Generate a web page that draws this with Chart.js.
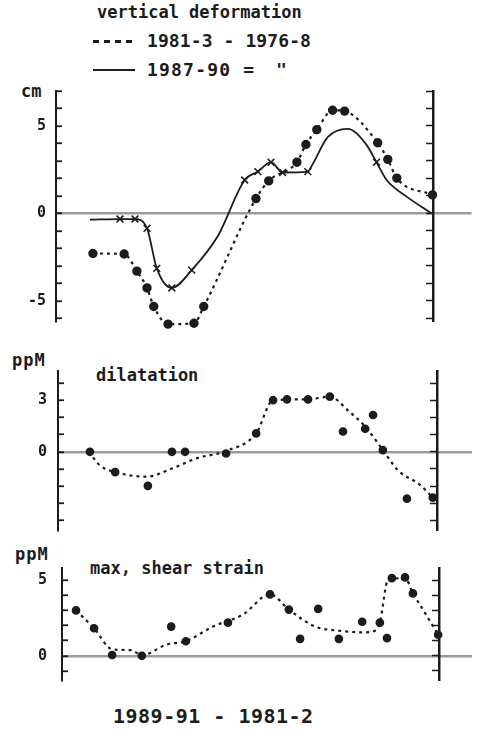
<!DOCTYPE html>
<html>
<head>
<meta charset="utf-8">
<script src="https://cdn.jsdelivr.net/npm/chart.js@4.4.1/dist/chart.umd.min.js"></script>
<style>
  body { margin: 0; background: #fff; }
  #page { position: relative; width: 478px; height: 731px; overflow: hidden;
          font-family: "DejaVu Sans Mono", monospace; font-weight: bold; color: #1c1c1c; }
  .t { position: absolute; white-space: pre; line-height: 1; }
  canvas { position: absolute; left: 0; }
  .dash { position: absolute; height: 3px;
          background: repeating-linear-gradient(90deg, #1c1c1c 0 6px, transparent 6px 11px); }
  .solid { position: absolute; height: 2px; background: #1c1c1c; }
</style>
</head>
<body>
<div id="page">
  <div class="t" style="left:97px; top:4px; font-size:17px;">vertical deformation</div>
  <div class="dash" style="left:93px; top:40px; width:42px;"></div>
  <div class="t" style="left:147px; top:32px; font-size:18px; letter-spacing:0.1px;">1981-3 - 1976-8</div>
  <div class="solid" style="left:93px; top:69px; width:42px;"></div>
  <div class="t" style="left:147px; top:61px; font-size:18px; letter-spacing:1.2px;">1987-90 =</div>
  <div class="t" style="left:276px; top:61px; font-size:18px;">"</div>

  <div class="t" style="left:21px; top:83px; font-size:17px;">cm</div>
  <div class="t" style="left:12px; top:352px; font-size:17px; letter-spacing:1px;">ppM</div>
  <div class="t" style="left:96px; top:367px; font-size:17px;">dilatation</div>
  <div class="t" style="left:15px; top:546px; font-size:17px; letter-spacing:1px;">ppM</div>
  <div class="t" style="left:90px; top:560px; font-size:17px;">max, shear strain</div>
  <div class="t" style="left:113px; top:706px; font-size:20px; letter-spacing:0.5px;">1989-91 - 1981-2</div>

  <canvas id="defChart" width="478" height="280" style="top:66px"></canvas>
  <canvas id="dilChart" width="478" height="211" style="top:345px"></canvas>
  <canvas id="shearChart" width="478" height="172" style="top:538px"></canvas>
</div>

<script>
// x = position along the profile: 0 at the left axis, 100 at the right axis

// vertical deformation (cm), 1981-3 minus 1976-8
const def8176X = [8.5, 16.8, 20.2, 22.9, 24.7, 28.5, 35.4, 38.0, 51.9, 55.3, 62.8, 65.2, 68.1, 72.3, 75.5, 84.3, 87.0, 89.4, 98.9];
const def8176Y = [-2.29, -2.32, -3.3, -4.26, -5.32, -6.33, -6.28, -5.32, 0.85, 1.86, 2.93, 3.94, 4.79, 5.9, 5.85, 4.04, 3.09, 2.02, 1.06];

// vertical deformation (cm), 1987-90 minus 1981-3
const def8790X = [7.7, 15.7, 19.7, 22.9, 25.5, 29.5, 34.8, 41.8, 48.9, 52.4, 55.9, 59.0, 65.7, 67.0, 71.0, 76.3, 81.1, 84.0, 86.7, 92.0, 98.7];
const def8790Y = [-0.35, -0.32, -0.32, -0.85, -3.14, -4.26, -3.24, -1.28, 1.91, 2.39, 2.93, 2.34, 2.39, 2.82, 4.36, 4.84, 3.99, 2.93, 1.91, 0.96, 0];
// stations marked with a cross on the 1987-90 curve
const def8790Marked = [15.7, 19.7, 22.9, 25.5, 29.5, 34.8, 48.9, 52.4, 55.9, 59.0, 65.7, 84.0];

// dilatation (ppM), 1989-91 minus 1981-2
const dilCurveX = [7.4, 10.4, 14.4, 22.9, 29.0, 36.2, 43.1, 51.9, 56.4, 65.7, 71.5, 76.3, 81.4, 85.6, 89.6, 95.5, 98.9];
const dilCurveY = [0, -0.8, -1.18, -1.45, -1.02, -0.37, 0, 1.07, 3.0, 3.05, 3.21, 2.41, 1.34, 0.1, -1.07, -1.93, -2.67];
const dilPointX = [7.7, 14.4, 23.1, 29.5, 33.0, 43.9, 51.9, 56.4, 60.1, 65.7, 71.5, 75.0, 80.9, 83.0, 85.6, 92.0, 98.9];
const dilPointY = [0, -1.18, -1.98, 0, 0, -0.1, 1.07, 3.0, 3.05, 3.05, 3.21, 1.18, 1.34, 2.14, 0.1, -2.73, -2.67];

// max. shear strain (ppM), 1989-91 minus 1981-2
const shearCurveX = [4.0, 8.8, 13.6, 18.6, 21.5, 28.2, 33.2, 40.4, 48.4, 55.6, 60.6, 67.6, 73.7, 80.3, 83.5, 84.8, 87.0, 91.5, 93.6, 96.0, 100.3];
const shearCurveY = [3.0, 1.82, 0.43, 0.37, 0.05, 0.75, 0.96, 1.93, 2.73, 4.06, 3.05, 1.93, 1.66, 1.55, 1.66, 2.19, 5.03, 5.13, 4.12, 3.16, 1.39];
const shearPointX = [4.0, 8.8, 13.6, 21.5, 29.3, 33.2, 44.4, 55.6, 60.6, 63.6, 68.4, 73.9, 80.1, 84.8, 86.7, 88.0, 91.5, 93.6, 100.3];
const shearPointY = [3.0, 1.82, 0.05, 0, 1.93, 0.96, 2.19, 4.06, 3.05, 1.12, 3.1, 1.12, 2.25, 2.19, 1.17, 5.13, 5.18, 4.12, 1.39];

// labelled ticks on each left axis
const defTickLabels = [5, 0, -5];
const dilTickLabels = [3, 0];
const shearTickLabels = [5, 0];

const INK = '#1c1c1c';
const ZERO = '#9a9a9a';

function zip(xs, ys) {
  return xs.map((x, i) => ({ x: x, y: ys[i] }));
}

function dotted(data) {
  return {
    data: data, borderColor: INK, borderWidth: 2.2, borderDash: [3, 4],
    pointRadius: 0, cubicInterpolationMode: 'monotone', clip: false
  };
}

function dots(data, style, radius) {
  return {
    data: data, showLine: false, pointStyle: style || 'circle', pointRadius: radius || 3.6,
    pointBackgroundColor: INK, pointBorderColor: INK, pointBorderWidth: 1.5, clip: false
  };
}

// p: canvas top, height, pixel of the zero line, pixels per unit, axis pixels...
function panel(id, p) {
  const padTop = p.zeroPx - p.yMax * p.unitPx - p.top;
  const padBottom = p.top + p.height - (p.zeroPx - p.yMin * p.unitPx);
  const toX = px => (px - 61) / 3.76;
  return new Chart(document.getElementById(id), {
    type: 'line',
    data: { datasets: p.datasets },
    options: {
      responsive: false,
      animation: false,
      events: [],
      layout: { padding: { top: padTop, bottom: padBottom, left: 0, right: 6 } },
      plugins: { legend: { display: false }, tooltip: { enabled: false } },
      scales: {
        x: { type: 'linear', min: toX(p.axisLeft), max: toX(472), display: false },
        y: {
          min: p.yMin, max: p.yMax,
          afterFit: s => { s.width = p.axisLeft; },
          border: { color: INK, width: 2 },
          grid: {
            color: c => (c.tick && c.tick.value === 0) ? ZERO : 'transparent',
            lineWidth: 2.5, tickLength: -6, tickColor: INK, tickWidth: 1.8
          },
          ticks: {
            stepSize: 1, includeBounds: false, autoSkip: false, padding: p.labelPad,
            color: INK, font: { family: 'DejaVu Sans Mono', weight: 'bold', size: 15 },
            callback: v => p.labels.includes(v) ? String(v) : ''
          }
        },
        yr: {
          position: { x: toX(p.axisRight) },
          min: p.yMin, max: p.yMax,
          border: { color: INK, width: 2.5 },
          grid: { drawOnChartArea: false, tickLength: 6, tickColor: INK, tickWidth: 1.5 },
          ticks: { display: false, stepSize: 1, includeBounds: false, autoSkip: false }
        }
      }
    }
  });
}

const defLine = zip(def8790X, def8790Y);
const defCrosses = defLine.filter(pt => def8790Marked.includes(pt.x));

panel('defChart', {
  top: 66, height: 280, zeroPx: 213, unitPx: 18.8, yMin: -6.15, yMax: 7.0,
  axisLeft: 56, axisRight: 434, labelPad: 16, labels: defTickLabels,
  datasets: [
    Object.assign(dotted(zip(def8176X, def8176Y)), { pointRadius: 3.6, pointBackgroundColor: INK, pointBorderColor: INK }),
    { data: defLine, borderColor: INK, borderWidth: 1.8, pointRadius: 0,
      cubicInterpolationMode: 'monotone', clip: false },
    Object.assign(dots(defCrosses, 'crossRot', 4.8), { pointBorderWidth: 1.6 })
  ]
});

panel('dilChart', {
  top: 345, height: 211, zeroPx: 453, unitPx: 18.7, yMin: -4.55, yMax: 4.7,
  axisLeft: 58, axisRight: 437, labelPad: 17, labels: dilTickLabels,
  datasets: [
    dotted(zip(dilCurveX, dilCurveY)),
    dots(zip(dilPointX, dilPointY))
  ]
});

panel('shearChart', {
  top: 538, height: 172, zeroPx: 664, unitPx: 18.7, yMin: -1.6, yMax: 5.8,
  axisLeft: 62, axisRight: 439, labelPad: 21, labels: shearTickLabels,
  datasets: [
    dotted(zip(shearCurveX, shearCurveY)),
    dots(zip(shearPointX, shearPointY))
  ]
});
</script>
</body>
</html>
